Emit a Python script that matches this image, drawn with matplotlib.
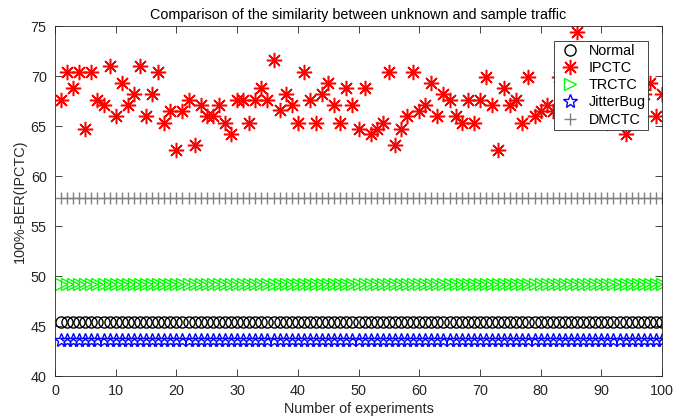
import numpy as np
import matplotlib
matplotlib.use("Agg")
import matplotlib.pyplot as plt

# ------------------ DATA ------------------

experiments = np.arange(1, 101)

normal_level    = 45.4
trctc_level     = 49.2
jitterbug_level = 43.6
dmctc_level     = 57.8

ipctc = [
    67.6, 70.4, 68.8, 70.4, 64.7, 70.4, 67.6, 67.1, 71.0, 66.0,
    69.3, 67.1, 68.2, 71.0, 66.0, 68.2, 70.4, 65.3, 66.5, 62.6,
    66.5, 67.6, 63.1, 67.1, 66.0, 66.0, 67.1, 65.3, 64.2, 67.6,
    67.6, 65.3, 67.6, 68.8, 67.6, 71.6, 66.6, 68.2, 67.1, 65.3,
    70.4, 67.6, 65.3, 68.2, 69.3, 67.1, 65.3, 68.8, 67.1, 64.7,
    68.8, 64.2, 64.7, 65.3, 70.4, 63.1, 64.7, 66.0, 70.4, 66.5,
    67.1, 69.3, 66.0, 68.2, 67.6, 66.0, 65.3, 67.6, 65.3, 67.6,
    69.9, 67.1, 62.6, 68.8, 67.1, 67.6, 65.3, 69.9, 66.0, 66.5,
    67.1, 66.5, 69.9, 67.1, 65.9, 74.4, 68.2, 66.6, 69.3, 67.6,
    65.3, 68.8, 66.0, 64.2, 67.1, 65.9, 68.2, 69.3, 66.0, 68.2,
]

series_labels = ["Normal", "IPCTC", "TRCTC", "JitterBug", "DMCTC"]

title_text = "Comparison of the similarity between unknown and sample traffic"
xlabel_text = "Number of experiments"
ylabel_text = "100%-BER(IPCTC)"

x_ticks = np.arange(0, 101, 10)
y_ticks = np.arange(40, 76, 5)

# ------------------ STYLE ------------------

plt.rcParams["font.family"] = ["Liberation Sans", "DejaVu Sans"]
plt.rcParams["font.size"] = 10.4
axis_grey = (0.15, 0.15, 0.15)

fig = plt.figure(figsize=(6.82, 4.17), dpi=100)
ax = fig.add_axes([55 / 682, 41 / 417, 607 / 682, 350 / 417])

n = len(experiments)
asterisk = (8, 2, 0)   # 8-armed asterisk

ax.plot(experiments, np.full(n, normal_level), linestyle="none", marker="o",
        markersize=8, markerfacecolor="none", markeredgecolor="black",
        markeredgewidth=1.0, label=series_labels[0])
ax.plot(experiments, ipctc, linestyle="none", marker=asterisk,
        markersize=11, markeredgecolor="red", color="red",
        markeredgewidth=1.1, label=series_labels[1])
ax.plot(experiments, np.full(n, trctc_level), linestyle="none", marker=">",
        markersize=8.5, markerfacecolor="none", markeredgecolor=(0, 1, 0),
        markeredgewidth=1.0, label=series_labels[2])
ax.plot(experiments, np.full(n, jitterbug_level), linestyle="none", marker="*",
        markersize=10, markerfacecolor="none", markeredgecolor="blue",
        markeredgewidth=1.0, label=series_labels[3])
ax.plot(experiments, np.full(n, dmctc_level), linestyle="none", marker="+",
        markersize=9, markeredgecolor=(0.5, 0.5, 0.5),
        markeredgewidth=1.0, label=series_labels[4])

ax.set_xlim(0, 100)
ax.set_ylim(40, 75)
ax.set_xticks(x_ticks)
ax.set_yticks(y_ticks)
ax.tick_params(direction="in", top=True, right=True, length=5, pad=6,
               colors=axis_grey, labelsize=10.4, width=0.6)
for side in ax.spines.values():
    side.set_color(axis_grey)
    side.set_linewidth(0.6)

ax.set_title(title_text, fontsize=10.4, color="black", pad=5)
ax.set_xlabel(xlabel_text, fontsize=10.4, color=axis_grey, labelpad=3)
ax.set_ylabel(ylabel_text, fontsize=10.4, color=axis_grey, labelpad=3)

leg = ax.legend(loc="upper right", bbox_to_anchor=(0.9775, 0.957),
                borderaxespad=0, fancybox=False, framealpha=1,
                edgecolor=axis_grey, fontsize=10.4, handlelength=1.8,
                labelspacing=0.22, borderpad=0.2, handletextpad=0.4)
leg.get_frame().set_linewidth(0.6)
leg.set_zorder(5)

fig.savefig("out.png", dpi=100)
